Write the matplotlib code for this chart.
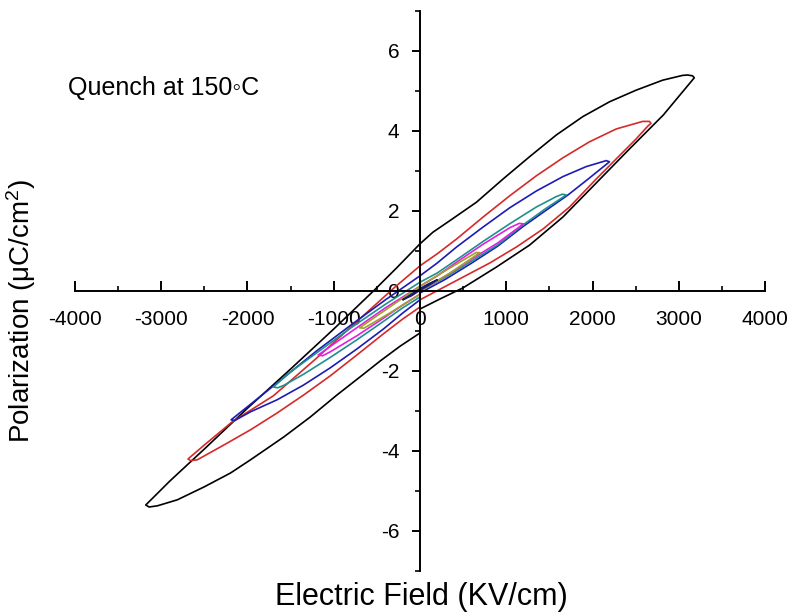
import matplotlib
matplotlib.use("Agg")
import matplotlib.pyplot as plt

plt.rcParams['font.family'] = ['Liberation Sans', 'DejaVu Sans']
plt.rcParams['mathtext.fontset'] = 'custom'
plt.rcParams['mathtext.rm'] = 'Liberation Sans'
plt.rcParams['mathtext.it'] = 'Liberation Sans:italic'
plt.rcParams['axes.unicode_minus'] = False

# P-E loops (E in KV/cm, P in uC/cm2)
black_E = [0, 231, 500, 887, 1272, 1657, 2043, 2428, 2821, 3014, 3130, 3180,
           3160, 3100, 3044, 2813, 2505, 2197, 1888, 1580, 1272, 963, 655, 347, 150, 0,
           -270, -540, -1000, -1500, -2000, -2500, -2900, -3100, -3180,
           -3140, -3044, -2813, -2505, -2197, -1965, -1580, -1272, -963, -655, -462, -231, 0]
black_P = [-0.45, -0.2, 0.08, 0.6, 1.15, 1.85, 2.7, 3.55, 4.4, 4.9, 5.2, 5.33,
           5.38, 5.4, 5.39, 5.27, 5.02, 4.73, 4.36, 3.9, 3.36, 2.8, 2.22, 1.76, 1.47, 1.18,
           0.58, 0.0, -0.95, -1.95, -2.93, -3.95, -4.75, -5.18, -5.35,
           -5.4, -5.37, -5.22, -4.9, -4.55, -4.22, -3.65, -3.15, -2.6, -2.08, -1.75, -1.38, -1.05]

red_E = [0, 193, 501, 809, 1118, 1426, 1734, 2043, 2274, 2505, 2640, 2678,
         2660, 2582, 2274, 1965, 1657, 1349, 1040, 732, 424, 200, 0,
         -300, -700, -1200, -1700, -2177, -2500, -2690,
         -2660, -2582, -2274, -1965, -1657, -1349, -1040, -732, -424, -200, 0]
red_P = [-0.22, 0.0, 0.35, 0.7, 1.1, 1.55, 2.1, 2.8, 3.3, 3.8, 4.12, 4.19,
         4.24, 4.24, 4.05, 3.73, 3.33, 2.88, 2.38, 1.85, 1.3, 0.93, 0.63,
         0.08, -0.7, -1.68, -2.62, -3.27, -3.85, -4.2,
         -4.24, -4.22, -3.85, -3.47, -3.05, -2.6, -2.12, -1.6, -1.07, -0.7, -0.4]

blue_E = [0, 300, 600, 900, 1200, 1450, 1715, 1950, 2197,
          2160, 1927, 1657, 1349, 1040, 732, 424, 200, 0,
          -400, -800, -1200, -1600, -1900, -2190,
          -2150, -1965, -1657, -1349, -1040, -732, -424, -200, 0]
blue_P = [-0.05, 0.3, 0.7, 1.12, 1.62, 2.0, 2.4, 2.8, 3.23,
          3.26, 3.11, 2.86, 2.5, 2.08, 1.6, 1.1, 0.7, 0.38,
          -0.22, -0.85, -1.5, -2.2, -2.72, -3.22,
          -3.24, -3.02, -2.72, -2.35, -1.92, -1.45, -0.95, -0.55, -0.22]

teal_E = [0, 300, 600, 900, 1200, 1450, 1696,
          1650, 1580, 1349, 1040, 732, 424, 200, 0,
          -400, -800, -1200, -1500, -1700,
          -1650, -1580, -1349, -1040, -732, -424, -200, 0]
teal_P = [0.0, 0.35, 0.75, 1.15, 1.66, 2.05, 2.4,
          2.42, 2.36, 2.1, 1.68, 1.24, 0.78, 0.45, 0.22,
          -0.33, -0.92, -1.55, -2.02, -2.4,
          -2.42, -2.36, -2.08, -1.66, -1.22, -0.76, -0.42, -0.15]

magenta_E = [0, 300, 600, 900, 1200,
             1150, 1040, 732, 424, 200, 0,
             -400, -800, -1180,
             -1130, -1040, -732, -424, -200, 0]
magenta_P = [0.0, 0.38, 0.8, 1.2, 1.68,
             1.69, 1.58, 1.17, 0.72, 0.38, 0.12,
             -0.42, -1.02, -1.6,
             -1.62, -1.52, -1.12, -0.68, -0.35, -0.08]

olive_E = [0, 350, 694, 650, 350, 0, -350, -700, -650, -350, 0]
olive_P = [0.0, 0.45, 0.96, 0.96, 0.58, 0.12, -0.4, -0.92, -0.93, -0.55, -0.08]

navy_E = [0, 100, 200, 100, 0, -100, -200, -100, 0]
navy_P = [0.02, 0.14, 0.28, 0.18, 0.06, -0.08, -0.22, -0.12, 0.02]

loops = [
    (black_E, black_P, '#000000'),
    (red_E, red_P, '#d42a2a'),
    (blue_E, blue_P, '#1c1cb4'),
    (teal_E, teal_P, '#1f8f8f'),
    (magenta_E, magenta_P, '#e020e0'),
    (olive_E, olive_P, '#a0a02a'),
    (navy_E, navy_P, '#1a1a6e'),
]

fig = plt.figure(figsize=(7.91, 6.15), dpi=100)
ax = fig.add_axes([75 / 791, 1 - 571 / 615, 690 / 791, 560 / 615])

for E, P, c in loops:
    ax.plot(E, P, color=c, lw=1.2)

ax.set_xlim(-4000, 4000)
ax.set_ylim(-7, 7)
ax.spines['left'].set_position(('data', 0))
ax.spines['bottom'].set_position(('data', 0))
ax.spines['top'].set_visible(False)
ax.spines['right'].set_visible(False)
for s in ['left', 'bottom']:
    ax.spines[s].set_linewidth(1.4)

ax.set_xticks(range(-4000, 4001, 1000))
ax.set_xticks(range(-3500, 4000, 1000), minor=True)
ax.set_yticks(range(-6, 7, 2))
ax.set_yticks(range(-7, 8, 2), minor=True)
ax.tick_params(axis='x', which='major', direction='in', length=7, width=1.4,
               labelsize=15, pad=14)
ax.tick_params(axis='x', which='minor', direction='in', length=3.5, width=1.2)
ax.tick_params(axis='y', which='major', direction='out', length=6, width=1.4,
               labelsize=15, pad=9)
ax.tick_params(axis='y', which='minor', direction='out', length=3.5, width=1.2)

fig.text(421 / 791, 1 - 597 / 615, 'Electric Field (KV/cm)', fontsize=22,
         ha='center', va='center')
fig.text(21 / 791, 1 - 311 / 615, 'Polarization (μC/cm$^2$)', fontsize=20,
         ha='center', va='center', rotation=90)
fig.text(68 / 791, 1 - 88 / 615, 'Quench at 150\u25e6C', fontsize=18,
         ha='left', va='center')

fig.savefig('out.png', dpi=100)
